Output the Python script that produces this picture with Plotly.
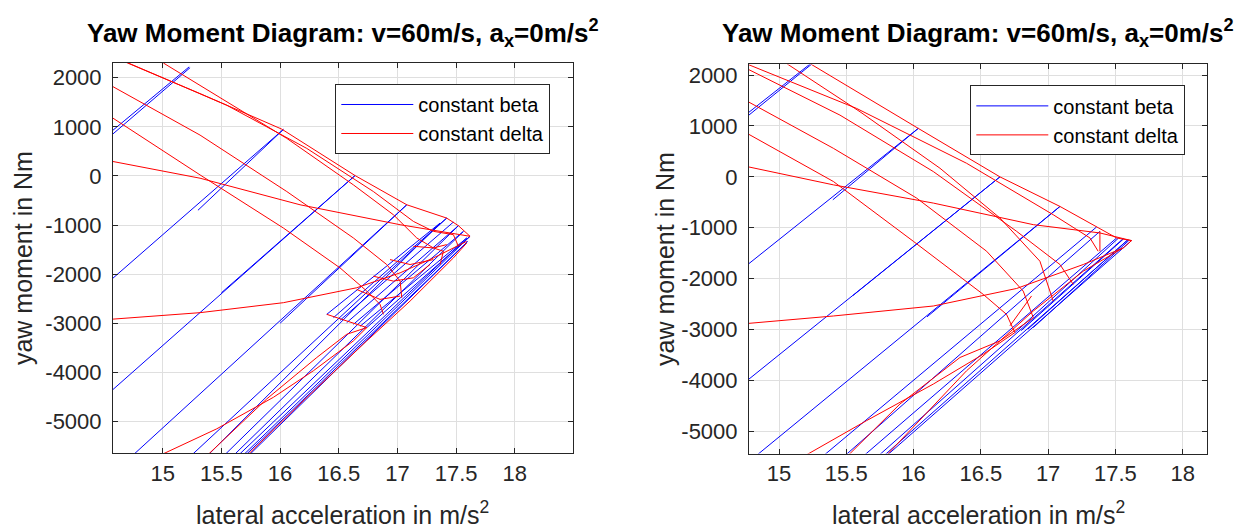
import plotly.graph_objects as go

# ---------------- data (lateral acceleration ay [m/s^2], yaw moment Mz [Nm]) ----------------
# Left diagram: constant-beta lines
left_beta_ay = [
    [14.50, 15.233], [14.52, 15.225], [14.50, 16.028], [15.30, 16.028],
    [14.50, 16.639], [15.50, 16.639], [14.74, 17.080], [16.00, 17.080],
    [15.24, 17.420], [15.38, 17.364], [15.52, 17.520], [15.60, 17.563],
    [15.64, 17.591], [15.68, 17.619], [15.70, 17.600], [15.73, 17.580],
    [16.398, 17.364], [16.455, 17.420], [16.511, 17.477], [16.568, 17.520],
    [16.625, 17.563], [16.682, 17.591], [16.739, 17.619],
]
left_beta_mz = [
    [700, 2204], [820, 2220], [-2240, 946], [-700, 946],
    [-4510, 7], [-2380, 7], [-5700, -588], [-3000, -588],
    [-5700, -859], [-5700, -960], [-5700, -1014], [-5700, -1129],
    [-5700, -1264], [-5700, -1230], [-5700, -1332], [-5700, -1380],
    [-2819, -960], [-2887, -859], [-2941, -940], [-2988, -1014],
    [-3022, -1129], [-3062, -1264], [-3089, -1230],
]
# Left diagram: constant-delta lines
left_delta_ay = [
    [14.66, 15.318, 16.014, 16.639, 17.080, 17.420, 17.520, 17.619],
    [14.707, 15.545, 16.227, 16.795, 17.136, 17.307, 17.477, 17.520],
    [15.006, 15.545, 16.057, 16.625, 16.966, 17.165, 17.307, 17.392, 17.364],
    [14.50, 15.318, 16.057, 16.625, 16.909, 17.023, 17.037],
    [14.50, 15.318, 16.028, 16.511, 16.739, 16.852, 16.881],
    [14.50, 15.318, 16.170, 17.023, 17.449, 17.619],
    [14.50, 15.318, 16.028, 16.653, 17.023, 17.307, 17.591],
    [14.968, 15.460, 15.943, 16.284, 16.625, 16.739],
    [15.375, 15.886, 16.313, 16.568, 16.739],
    [15.716, 16.170, 16.739, 17.108, 17.477, 17.591],
    [16.398, 16.739],
    [16.937, 17.108, 17.307],
    [16.795, 16.966, 17.136, 17.278],
    [16.653, 16.852, 17.023],
    [17.136, 17.307, 17.420],
]
left_delta_mz = [
    [2340, 1676, 953, 7, -588, -859, -1014, -1230],
    [2298, 1440, 561, -318, -926, -1129, -1197, -1433],
    [2298, 1507, 764, -183, -791, -1264, -1467, -1535, -1805],
    [1918, 831, -318, -1264, -1805, -2143, -2481],
    [1294, 20, -1061, -1873, -2346, -2616, -2819],
    [328, -47, -588, -994, -1163, -1230],
    [-2930, -2785, -2582, -2278, -1974, -1670, -1332],
    [-5700, -5151, -4509, -3968, -3360, -3089],
    [-5700, -4543, -3698, -3225, -3089],
    [-5700, -4644, -3360, -2549, -1670, -1366],
    [-2819, -3089],
    [-1704, -1805, -1704],
    [-2042, -2143, -2075, -1805],
    [-2312, -2515, -2447],
    [-1433, -1467, -1399],
]

# Right diagram: constant-beta lines
right_beta_ay = [
    [14.70, 15.243], [14.70, 15.230], [14.70, 16.035], [15.40, 16.035],
    [14.70, 16.642], [15.55, 16.642], [14.82, 17.088], [16.10, 17.088],
    [15.32, 17.360], [15.48, 17.385], [15.62, 17.509], [15.73, 17.558],
    [15.77, 17.595], [15.79, 17.620],
    [16.753, 17.520], [16.800, 17.560], [16.850, 17.590], [16.890, 17.600],
]
right_beta_mz = [
    [1050, 2215], [1110, 2215], [-1865, 952], [-450, 952],
    [-4136, 0], [-2330, 0], [-5500, -581], [-2750, -581],
    [-5500, -985], [-5500, -1070], [-5500, -1200], [-5500, -1213],
    [-5500, -1233], [-5500, -1252],
    [-3059, -1210], [-3020, -1220], [-2990, -1240], [-2960, -1250],
]
# Right diagram: constant-delta lines
right_delta_ay = [
    [15.180, 15.243, 16.035, 16.642, 17.088, 17.360, 17.509, 17.620],
    [14.70, 15.577, 16.394, 17.038, 17.311, 17.372],
    [14.70, 15.453, 16.147, 16.766, 17.088, 17.187],
    [15.014, 15.602, 16.196, 16.642, 16.939, 17.038],
    [14.70, 15.404, 16.023, 16.543, 16.815, 16.890],
    [14.70, 15.404, 15.998, 16.518, 16.691, 16.753],
    [14.70, 15.404, 16.147, 16.890, 17.385, 17.620],
    [14.70, 15.404, 16.147, 16.766, 17.261, 17.558],
    [15.178, 15.651, 16.147, 16.518, 16.753],
    [15.503, 15.899, 16.345, 16.642, 16.890],
    [15.788, 16.394, 16.890, 17.261, 17.558, 17.620],
    [16.716, 16.877],
    [17.385, 17.385],
]
right_delta_mz = [
    [2300, 2205, 952, 0, -581, -985, -1200, -1252],
    [2283, 1344, 267, -744, -1200, -1461],
    [2206, 1213, 104, -1070, -1722, -2113],
    [2300, 1279, 170, -809, -1657, -2440],
    [1578, 561, -417, -1461, -2244, -2766],
    [947, -91, -1265, -2309, -2701, -3059],
    [237, -157, -515, -939, -1102, -1252],
    [-2895, -2733, -2537, -2192, -1722, -1396],
    [-5500, -4788, -4070, -3483, -3059],
    [-5500, -4462, -3548, -3222, -2766],
    [-5500, -3809, -2635, -1853, -1396, -1252],
    [-2926, -2339],
    [-1070, -1461],
]

x_tick_vals = [15, 15.5, 16, 16.5, 17, 17.5, 18]
x_tick_text = ["15", "15.5", "16", "16.5", "17", "17.5", "18"]
y_tick_vals = [-5000, -4000, -3000, -2000, -1000, 0, 1000, 2000]
y_tick_text = ["-5000", "-4000", "-3000", "-2000", "-1000", "0", "1000", "2000"]

title_text = "<b>Yaw Moment Diagram: v=60m/s, a<sub>x</sub>=0m/s<sup>2</sup></b>"
x_label = "lateral acceleration in m/s<sup>2</sup>"
y_label = "yaw moment in Nm"


def flatten(groups):
    out = []
    for g in groups:
        out.extend(g)
        out.append(None)
    return out


W, H = 1234, 531
FONT = "Liberation Sans, Arial, Helvetica, sans-serif"
AX = "#262626"

fig = go.Figure()

panels = [
    ("x", "y", "legend", left_beta_ay, left_beta_mz, left_delta_ay, left_delta_mz),
    ("x2", "y2", "legend2", right_beta_ay, right_beta_mz, right_delta_ay, right_delta_mz),
]
for xa, ya, lg, bax, bmz, dax, dmz in panels:
    fig.add_trace(go.Scatter(x=flatten(bax), y=flatten(bmz), mode="lines",
                             line=dict(color="#0000ff", width=1), name="constant beta",
                             xaxis=xa, yaxis=ya, legend=lg, connectgaps=False))
    fig.add_trace(go.Scatter(x=flatten(dax), y=flatten(dmz), mode="lines",
                             line=dict(color="#ff0000", width=1), name="constant delta",
                             xaxis=xa, yaxis=ya, legend=lg, connectgaps=False))


def xaxis_style(domain, rng, anchor):
    return dict(domain=domain, range=rng, anchor=anchor, showline=True, linecolor=AX,
                linewidth=1, mirror="ticks", ticks="inside", ticklen=5, tickcolor=AX,
                showgrid=True, gridcolor="#dfdfdf", gridwidth=1, zeroline=False,
                tickvals=x_tick_vals, ticktext=x_tick_text, ticklabelstandoff=0,
                tickfont=dict(family=FONT, size=22, color=AX))


def yaxis_style(domain, rng, anchor):
    return dict(domain=domain, range=rng, anchor=anchor, showline=True, linecolor=AX,
                linewidth=1, mirror="ticks", ticks="inside", ticklen=5, tickcolor=AX,
                showgrid=True, gridcolor="#dfdfdf", gridwidth=1, zeroline=False,
                tickvals=y_tick_vals, ticktext=y_tick_text, ticklabelstandoff=6,
                tickfont=dict(family=FONT, size=22, color=AX))


L = (113 / W, 572.7 / W)
R = (749 / W, 1207.3 / W)
LY = (1 - 453 / H, 1 - 61 / H)
RY = (1 - 453.3 / H, 1 - 62.7 / H)

legend_common = dict(xanchor="left", yanchor="top", bgcolor="white", bordercolor=AX,
                     borderwidth=1, font=dict(family=FONT, size=20, color="#000000"),
                     itemwidth=72, tracegroupgap=0)

fig.update_layout(
    width=W, height=H, margin=dict(l=0, r=0, t=0, b=0),
    paper_bgcolor="white", plot_bgcolor="white",
    xaxis=xaxis_style(L, [14.576, 18.494], "y"),
    yaxis=yaxis_style(LY, [-5649, 2304], "x"),
    xaxis2=xaxis_style(R, [14.777, 18.183], "y2"),
    yaxis2=yaxis_style(RY, [-5436, 2208], "x2"),
    legend=dict(x=335.3 / W, y=1 - 82.3 / H, **legend_common),
    legend2=dict(x=970.3 / W, y=1 - 83.7 / H, **legend_common),
    showlegend=True,
)

annots = []
for (x0, x1) in [L, R]:
    xc = (x0 + x1) / 2
    annots.append(dict(text=title_text, x=xc, y=1 - 31 / H, xref="paper", yref="paper",
                       xanchor="center", yanchor="middle", showarrow=False,
                       font=dict(family=FONT, size=26, color="#000000")))
    annots.append(dict(text=x_label, x=xc, y=1 - 513 / H, xref="paper", yref="paper",
                       xanchor="center", yanchor="middle", showarrow=False,
                       font=dict(family=FONT, size=25, color=AX)))
for ylab_x, (y0, y1) in [(23, LY), (665, RY)]:
    annots.append(dict(text=y_label, x=ylab_x / W, y=(y0 + y1) / 2, xref="paper", yref="paper",
                       xanchor="center", yanchor="middle", showarrow=False, textangle=-90,
                       font=dict(family=FONT, size=25, color=AX)))
fig.update_layout(annotations=annots)

fig.write_html("out.html")
